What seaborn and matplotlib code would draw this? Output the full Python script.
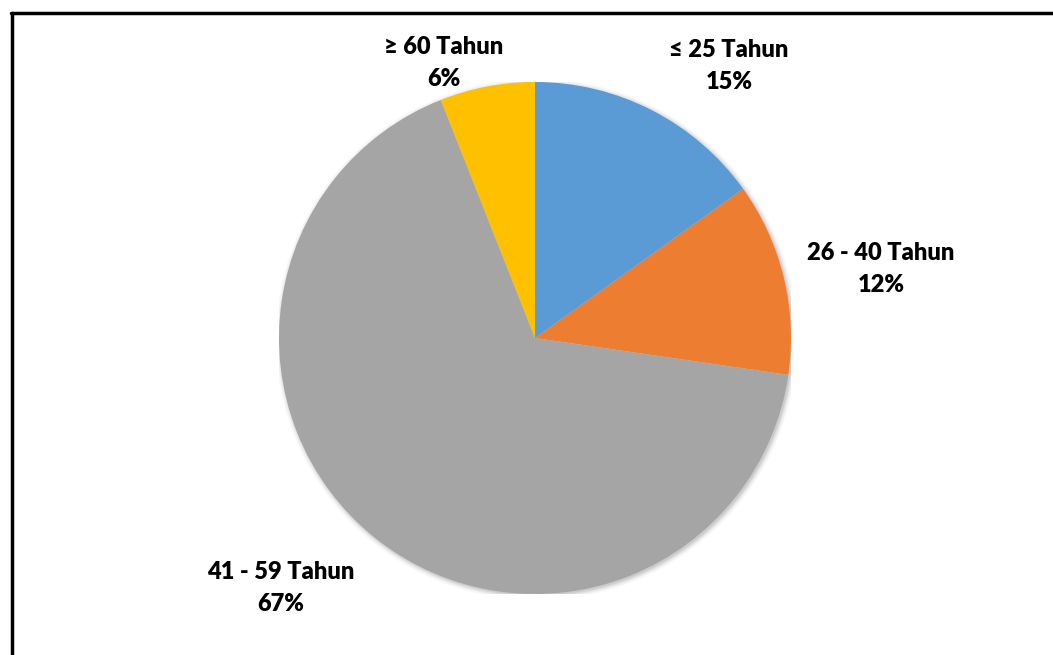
import numpy as np
import matplotlib.pyplot as plt
import seaborn as sns

labels = ['≤ 25 Tahun', '26 - 40 Tahun', '41 - 59 Tahun', '≥ 60 Tahun']
shares = [15.1, 12.2, 66.7, 6.0]   # slice sizes
colors = ['#5B9BD5', '#ED7D31', '#A5A5A5', '#FFC000']

sns.set_theme(style="white")
plt.rcParams['font.family'] = ['Lato', 'DejaVu Sans']

fig = plt.figure(figsize=(10.53, 6.55), dpi=100)
W, H = 1053, 655
cx, cy, r = 535, 338, 256

# pie axes, sized in pixels so the circle sits where the original does
ax = fig.add_axes([(cx - r) / W, (H - cy - r) / H, 2 * r / W, 2 * r / H])
ax.set_xlim(-1, 1)
ax.set_ylim(-1, 1)
ax.set_aspect('equal')
ax.axis('off')

# soft shadow
for k, a in zip(np.linspace(1.02, 1.0, 6), [0.015, 0.02, 0.03, 0.04, 0.05, 0.06]):
    ax.add_patch(plt.Circle((0.006, -0.006), k, color='black', alpha=a, lw=0, zorder=0))

ax.pie(shares, colors=colors, startangle=90, counterclock=False, radius=1,
       wedgeprops=dict(linewidth=0))
ax.set_xlim(-1, 1)
ax.set_ylim(-1, 1)

# label centres in pixels
label_pos = [(729, 66), (881, 269), (281, 588), (444, 63)]
total = sum(shares)
for lab, s, (px, py) in zip(labels, shares, label_pos):
    fig.text(px / W, 1 - py / H, f'{lab}\n{s / total * 100:.0f}%', ha='center', va='center',
             fontsize=17, fontweight='heavy', color='black', linespacing=1.55)

# border on the left and top (the rest is cropped)
fig.add_artist(plt.Line2D([12 / W, 12 / W], [0, 1 - 12.5 / H], color='black', lw=2.5,
                          transform=fig.transFigure))
fig.add_artist(plt.Line2D([11 / W, 1], [1 - 12.5 / H, 1 - 12.5 / H], color='black', lw=2.5,
                          transform=fig.transFigure))

fig.savefig('out.png', dpi=100, facecolor='white')
